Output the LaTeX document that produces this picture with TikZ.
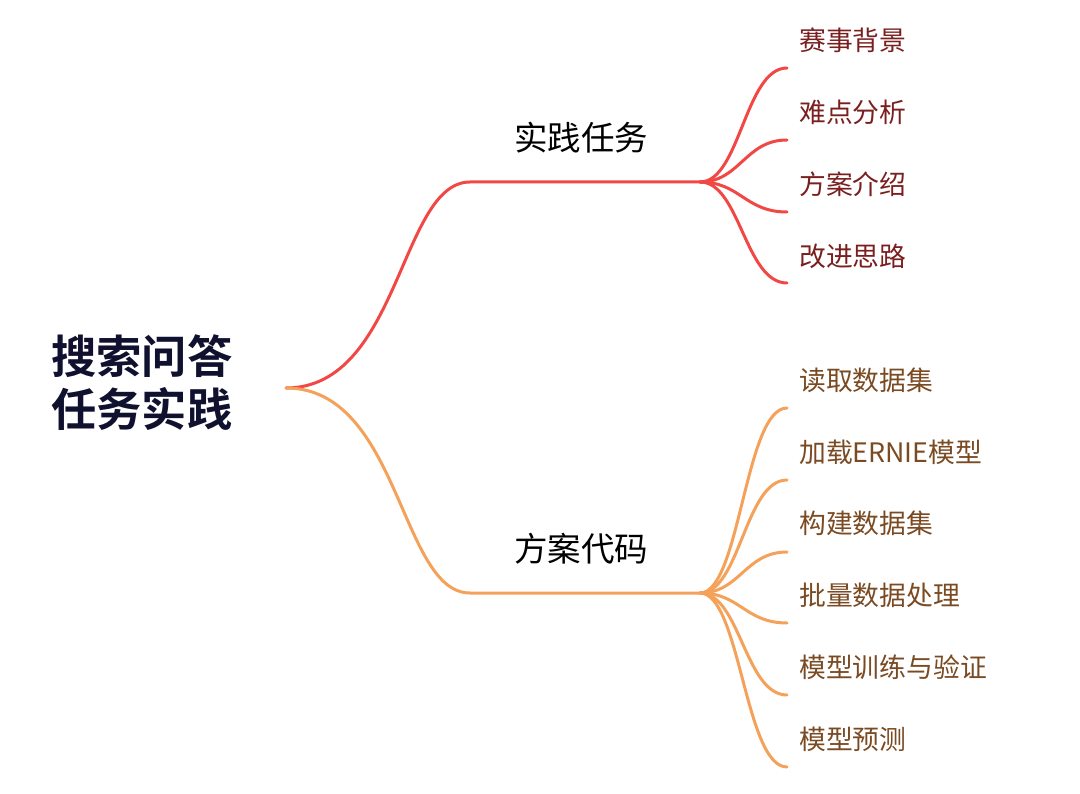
\documentclass[tikz,border=0pt]{standalone}
\usepackage{fontspec}
\setmainfont{Noto Sans CJK SC}[BoldFont={Noto Sans CJK SC Bold}]
\definecolor{cred}{HTML}{F24845}
\definecolor{corange}{HTML}{F4A15A}
\definecolor{tred}{HTML}{7A1F1F}
\definecolor{tbrown}{HTML}{7A4A22}
\definecolor{navy}{HTML}{10112E}
\tikzset{
  rootnode/.style={font=\fontsize{45.3}{53}\selectfont\bfseries, text=navy, align=left, inner sep=0pt},
  midnode/.style={font=\fontsize{33.5}{36}\selectfont, text=black, inner sep=0pt},
  leafred/.style={font=\fontsize{26.8}{30}\selectfont, text=tred, anchor=west, inner sep=0pt},
  leaforange/.style={font=\fontsize{26.8}{30}\selectfont, text=tbrown, anchor=west, inner sep=0pt},
  redline/.style={draw=cred, line width=3pt, line cap=round},
  orangeline/.style={draw=corange, line width=3pt, line cap=round},
}
\begin{document}
\begin{tikzpicture}[x=1pt,y=-1pt]
\useasboundingbox (0,0) rectangle (1080,794);
% root
\node[rootnode, anchor=west] (root) at (51,383) {搜索问答\\任务实践};
\coordinate (r0) at (286,388);
% mid nodes
\node[midnode] (m1) at (581,138) {实践任务};
\node[midnode] (m2) at (581,549) {方案代码};
\coordinate (a1) at (470,182);
\coordinate (f1) at (700,182);
\coordinate (a2) at (470,593);
\coordinate (f2) at (700,593);
% main branches
\draw[redline] (r0) .. controls (400,388) and (400,182) .. (a1) -- (f1);
\draw[orangeline] (r0) .. controls (400,388) and (400,593) .. (a2) -- (f2);
% red leaves
\foreach \t/\ly/\ey [count=\i] in {赛事背景/40/68, 难点分析/112/140, 方案介绍/184/212, 改进思路/256/283}{
  \node[leafred] (lr\i) at (799,\ly) {\t};
  \coordinate (er\i) at (787,\ey);
  \draw[redline] (f1) .. controls (740,182) and (745,\ey) .. (er\i);
}
% orange leaves
\foreach \t/\ly/\ey [count=\i] in {读取数据集/380/408, 加载ERNIE模型/452/480, 构建数据集/523/552, 批量数据处理/595/623, 模型训练与验证/667/695, 模型预测/739/767}{
  \node[leaforange] (lo\i) at (799,\ly) {\t};
  \coordinate (eo\i) at (787,\ey);
  \draw[orangeline] (f2) .. controls (740,593) and (745,\ey) .. (eo\i);
}
\end{tikzpicture}
\end{document}
